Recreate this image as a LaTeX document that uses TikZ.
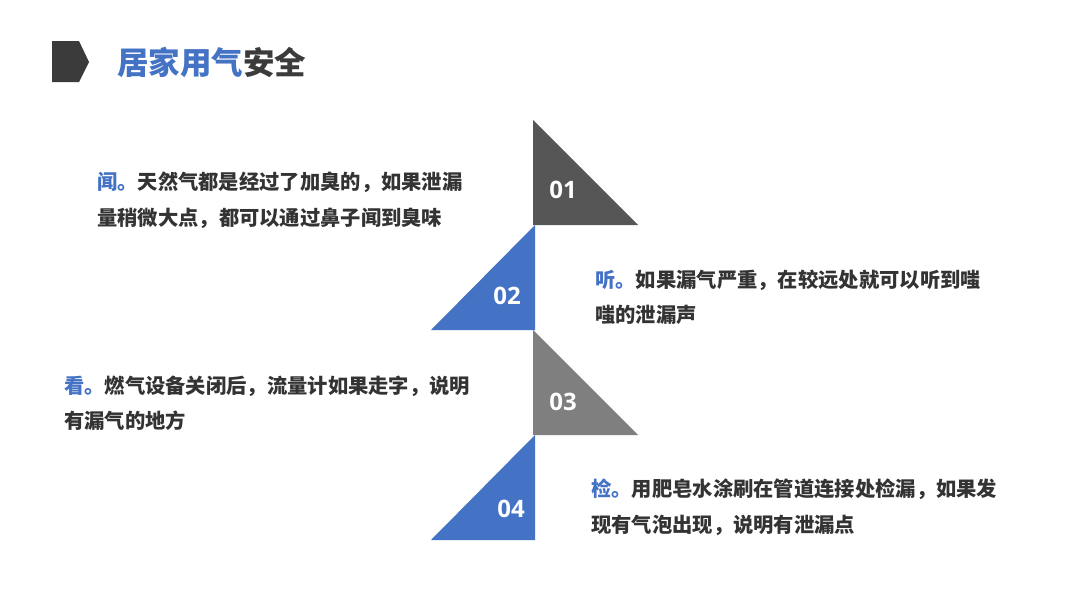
\documentclass[tikz,border=0pt]{standalone}
\usepackage{fontspec}
\setmainfont{Noto Sans CJK SC}
\newfontfamily\numfont{Open Sans}
\definecolor{myblue}{HTML}{4472C4}
\definecolor{mydark}{HTML}{3B3B3B}
\definecolor{tri1}{HTML}{565656}
\definecolor{tri3}{HTML}{7F7F7F}
\definecolor{txt}{HTML}{333333}
\begin{document}
\begin{tikzpicture}[x=1pt,y=-1pt,
  para/.style={anchor=west,inner sep=0pt,align=left,text=txt,font=\fontsize{20.3}{35.5}\selectfont\bfseries},
  num/.style={text=white,inner sep=0pt,font=\numfont\fontsize{24}{28}\selectfont\bfseries},
  lab/.style={text=myblue}]
\fill[white] (0,0) rectangle (1080,608);
\useasboundingbox (0,0) rectangle (1080,608);
% title marker
\fill[mydark] (52,41) -- (79,41) -- (89,62) -- (79,82) -- (52,82) -- cycle;
\node[anchor=west,inner sep=0pt,font=\fontsize{31.5}{36}\selectfont\bfseries] (title) at (117,62)
  {\textcolor{myblue}{居家用气}\textcolor{mydark}{安全}};
% triangles
\fill[tri1] (533,120) -- (533,225) -- (638,225) -- cycle;
\fill[myblue] (535,225) -- (535,330) -- (431,330) -- cycle;
\fill[tri3] (533,330) -- (533,435) -- (638,435) -- cycle;
\fill[myblue] (535,435) -- (535,540) -- (431,540) -- cycle;
\node[num] (n1) at (563,190) {01};
\node[num] (n2) at (507,296) {02};
\node[num] (n3) at (563,402) {03};
\node[num] (n4) at (511,509) {04};
% paragraphs
\node[para] (p1) at (97,200.5) {\textcolor{myblue}{闻。}天然气都是经过了加臭的，如果泄漏\\量稍微大点，都可以通过鼻子闻到臭味};
\node[para] (p2) at (595,297) {\textcolor{myblue}{听。}如果漏气严重，在较远处就可以听到嗤\\嗤的泄漏声};
\node[para] (p3) at (64,403.5) {\textcolor{myblue}{看。}燃气设备关闭后，流量计如果走字，说明\\有漏气的地方};
\node[para] (p4) at (591,507) {\textcolor{myblue}{检。}用肥皂水涂刷在管道连接处检漏，如果发\\现有气泡出现，说明有泄漏点};
\end{tikzpicture}
\end{document}
